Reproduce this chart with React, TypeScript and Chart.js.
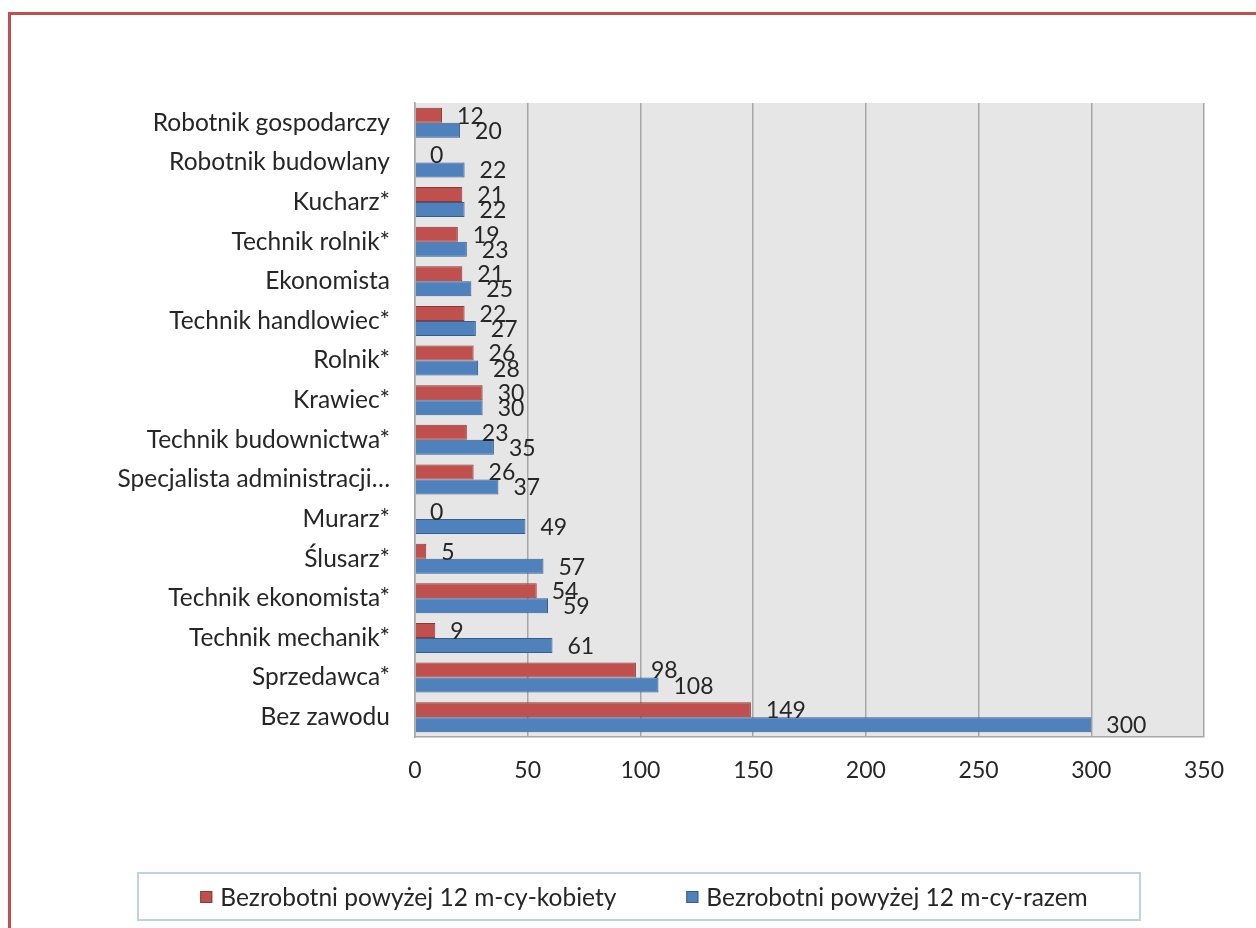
import React, { useEffect, useRef } from "react";
import { Chart, registerables } from "chart.js";

Chart.register(...registerables);

const categories = [
  "Robotnik gospodarczy",
  "Robotnik budowlany",
  "Kucharz*",
  "Technik rolnik*",
  "Ekonomista",
  "Technik handlowiec*",
  "Rolnik*",
  "Krawiec*",
  "Technik budownictwa*",
  "Specjalista administracji…",
  "Murarz*",
  "Ślusarz*",
  "Technik ekonomista*",
  "Technik mechanik*",
  "Sprzedawca*",
  "Bez zawodu",
];

const kobiety = [12, 0, 21, 19, 21, 22, 26, 30, 23, 26, 0, 5, 54, 9, 98, 149];
const razem = [20, 22, 22, 23, 25, 27, 28, 30, 35, 37, 49, 57, 59, 61, 108, 300];

const seriesNames = [
  "Bezrobotni powyżej 12 m-cy-kobiety",
  "Bezrobotni powyżej 12 m-cy-razem",
];

const FONT = "Lato, 'Open Sans', sans-serif";
const TEXT = "#262626";

const framePlugin = {
  id: "frameAndBg",
  beforeDraw(chart: any) {
    const { ctx, chartArea } = chart;
    ctx.save();
    ctx.fillStyle = "#ffffff";
    ctx.fillRect(0, 0, chart.width, chart.height);
    ctx.fillStyle = "#e6e6e6";
    ctx.fillRect(chartArea.left, chartArea.top, chartArea.right - chartArea.left, chartArea.bottom - chartArea.top);
    ctx.restore();
  },
  afterDraw(chart: any) {
    const { ctx } = chart;
    ctx.save();
    // outer frame
    ctx.strokeStyle = "#c0504d";
    ctx.lineWidth = 3;
    ctx.strokeRect(9.5, 13.5, 1400, 1100);
    // legend
    const boxL = 138, boxT = 873, boxW = 1002, boxH = 47;
    ctx.strokeStyle = "#bfd1e8";
    ctx.lineWidth = 2;
    ctx.strokeRect(boxL, boxT, boxW, boxH);
    ctx.font = `24.5px ${FONT}`;
    const ds = chart.data.datasets;
    const sq = 12, gapText = 8, gapItems = 70;
    const widths = ds.map((d: any) => sq + gapText + ctx.measureText(d.label).width);
    const total = widths.reduce((a: number, b: number) => a + b, 0) + gapItems * (ds.length - 1);
    let x = 644 - total / 2;
    const cy = 897;
    ds.forEach((d: any, i: number) => {
      ctx.fillStyle = d.backgroundColor;
      ctx.fillRect(x, cy - sq / 2, sq, sq);
      ctx.strokeStyle = d.borderColor;
      ctx.lineWidth = 1;
      ctx.strokeRect(x + 0.5, cy - sq / 2 + 0.5, sq - 1, sq - 1);
      ctx.fillStyle = TEXT;
      ctx.textAlign = "left";
      ctx.textBaseline = "middle";
      ctx.fillText(d.label, x + sq + gapText, cy + 1);
      x += widths[i] + gapItems;
    });
    ctx.restore();
  },
};

const labelPlugin = {
  id: "valueLabels",
  afterDatasetsDraw(chart: any) {
    const { ctx } = chart;
    ctx.save();
    ctx.font = `23px ${FONT}`;
    ctx.fillStyle = TEXT;
    ctx.textAlign = "left";
    ctx.textBaseline = "middle";
    chart.data.datasets.forEach((d: any, di: number) => {
      const meta = chart.getDatasetMeta(di);
      meta.data.forEach((el: any, i: number) => {
        ctx.fillText(String(d.data[i]), el.x + 15, el.y + 1);
      });
    });
    ctx.restore();
  },
};

export default function App() {
  const ref = useRef<HTMLCanvasElement | null>(null);
  useEffect(() => {
    if (!ref.current) return;
    const chart = new Chart(ref.current, {
      type: "bar",
      data: {
        labels: categories,
        datasets: [
          {
            label: seriesNames[0],
            data: kobiety,
            backgroundColor: "#c0504d",
            borderColor: "#8c3836",
            borderWidth: 1,
            barPercentage: 1,
            categoryPercentage: 0.76,
          },
          {
            label: seriesNames[1],
            data: razem,
            backgroundColor: "#4f81bd",
            borderColor: "#385d8a",
            borderWidth: 1,
            barPercentage: 1,
            categoryPercentage: 0.76,
          },
        ],
      },
      options: {
        indexAxis: "y",
        animation: false,
        responsive: false,
        devicePixelRatio: 1,
        layout: { padding: { left: 0, right: 52, top: 103, bottom: 0 } },
        plugins: {
          legend: { display: false },
          tooltip: { enabled: false },
        },
        scales: {
          x: {
            min: 0,
            max: 350,
            ticks: { stepSize: 50, padding: 20, color: TEXT, font: { family: FONT, size: 23 } },
            grid: { color: "#a6a6a6", lineWidth: 1.5, drawTicks: false },
            border: { display: true, color: "#a6a6a6", width: 1.5 },
            afterFit: (s: any) => {
              s.height = 191;
            },
          },
          y: {
            ticks: { padding: 25, color: TEXT, font: { family: FONT, size: 24.5 }, autoSkip: false },
            grid: { display: false, drawTicks: false },
            border: { display: true, color: "#a6a6a6", width: 1.5 },
            afterFit: (s: any) => {
              s.width = 415;
            },
          },
        },
      },
      plugins: [framePlugin, labelPlugin],
    });
    return () => chart.destroy();
  }, []);
  return (
    <div style={{ position: "absolute", left: 0, top: 0, width: 1256, height: 928 }}>
      <canvas ref={ref} width={1256} height={928} style={{ width: 1256, height: 928 }} />
    </div>
  );
}
